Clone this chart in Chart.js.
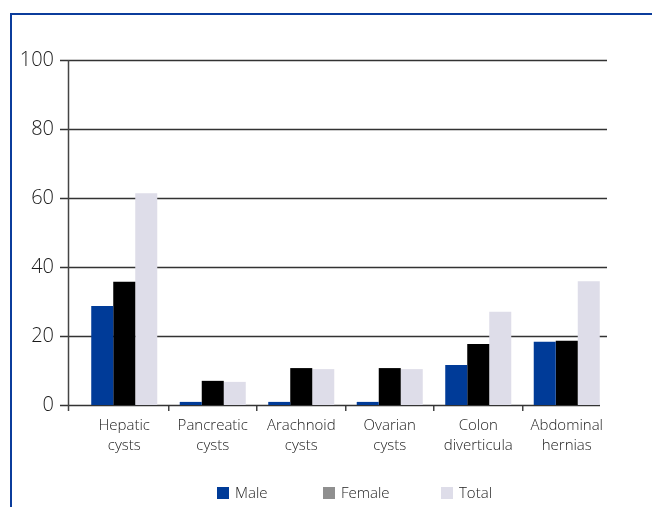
<!DOCTYPE html>
<html>
<head>
<meta charset="utf-8">
<script src="https://cdn.jsdelivr.net/npm/chart.js@4/dist/chart.umd.min.js"></script>
<style>
  html, body { margin: 0; padding: 0; background: #fff; }
  #wrap { position: relative; width: 652px; height: 507px; overflow: hidden; font-family: 'Open Sans', 'Noto Sans', sans-serif; }
  #frame { position: absolute; left: 10px; top: 13px; right: 0; bottom: 0; border-top: 2px solid #0b3c9c; border-left: 2px solid #0b3c9c; }
  canvas { position: absolute; left: 0; top: 0; }
  .lg { position: absolute; top: 483px; font-size: 15px; font-weight: 300; color: #222; line-height: 18px; }
  .lg span.box { display: inline-block; width: 12px; height: 12px; vertical-align: -1px; margin-right: 6px; }
</style>
</head>
<body>
<div id="wrap">
  <div id="frame"></div>
  <canvas id="c" width="652" height="507"></canvas>
  <div id="legend"></div>
</div>
<script>
const categories = [
  ['Hepatic', 'cysts'],
  ['Pancreatic', 'cysts'],
  ['Arachnoid', 'cysts'],
  ['Ovarian', 'cysts'],
  ['Colon', 'diverticula'],
  ['Abdominal', 'hernias']
];
const seriesNames = ['Male', 'Female', 'Total'];
const maleValues   = [28.7, 0.9, 0.9, 0.9, 11.6, 18.3];
const femaleValues = [35.7, 7.0, 10.7, 10.7, 17.7, 18.6];
const totalValues  = [61.4, 6.7, 10.4, 10.4, 27.0, 35.9];
const yTicks = [0, 20, 40, 60, 80, 100];

const barColors = ['#003b98', '#000000', '#dedde9'];
const legendColors = ['#003b98', '#8f8f8f', '#dedde9'];
const legendX = [217, 323, 441];

// HTML legend
const lg = document.getElementById('legend');
seriesNames.forEach((n, i) => {
  const d = document.createElement('div');
  d.className = 'lg';
  d.style.left = legendX[i] + 'px';
  d.innerHTML = '<span class="box" style="background:' + legendColors[i] + '"></span>' + n;
  lg.appendChild(d);
});

const axisPlugin = {
  id: 'axisPlugin',
  beforeDatasetsDraw(chart) {
    const { ctx, chartArea, scales } = chart;
    const y = scales.y;
    const axisX = chartArea.left - 12;
    ctx.save();
    ctx.strokeStyle = '#333';
    ctx.lineWidth = 1.5;
    yTicks.forEach(v => {
      const py = Math.round(y.getPixelForValue(v)) + 0.5;
      ctx.beginPath();
      ctx.moveTo(axisX - 8, py);
      ctx.lineTo(v === 0 ? chartArea.right - 11 : chartArea.right - 4, py);
      ctx.stroke();
    });
    ctx.strokeStyle = '#444';
    ctx.beginPath();
    ctx.moveTo(axisX + 0.5, chartArea.top);
    ctx.lineTo(axisX + 0.5, chartArea.bottom + 6);
    ctx.stroke();
    ctx.restore();
  }
};

new Chart(document.getElementById('c'), {
  type: 'bar',
  data: {
    labels: categories,
    datasets: [
      { label: seriesNames[0], data: maleValues, backgroundColor: barColors[0] },
      { label: seriesNames[1], data: femaleValues, backgroundColor: barColors[1] },
      { label: seriesNames[2], data: totalValues, backgroundColor: barColors[2] }
    ]
  },
  options: {
    responsive: false,
    animation: false,
    devicePixelRatio: 1,
    layout: { padding: { top: 60, right: 41, left: 0, bottom: 0 } },
    datasets: { bar: { categoryPercentage: 0.746, barPercentage: 1.0, borderWidth: 0 } },
    plugins: { legend: { display: false }, tooltip: { enabled: false } },
    scales: {
      x: {
        afterFit(scale) { scale.height = 102; },
        border: { display: false },
        grid: {
          drawOnChartArea: false,
          drawTicks: true,
          tickLength: 6,
          lineWidth: 1.5,
          color: (c) => (c.type === 'tick' && c.index > 0) ? '#444' : 'rgba(0,0,0,0)'
        },
        ticks: {
          padding: 5,
          color: '#222',
          maxRotation: 0,
          autoSkip: false,
          font: { family: "'Open Sans', 'Noto Sans', sans-serif", size: 15, weight: '300', lineHeight: '20px' }
        }
      },
      y: {
        min: 0,
        max: 100,
        afterFit(scale) { scale.width = 80; },
        afterBuildTicks(scale) { scale.ticks = yTicks.map(v => ({ value: v })); },
        border: { display: false },
        grid: { display: false },
        ticks: {
          padding: 18,
          color: '#1a1a1a',
          font: { family: "'Open Sans', 'Noto Sans', sans-serif", size: 20, weight: '300' }
        }
      }
    }
  },
  plugins: [axisPlugin]
});
</script>
</body>
</html>
